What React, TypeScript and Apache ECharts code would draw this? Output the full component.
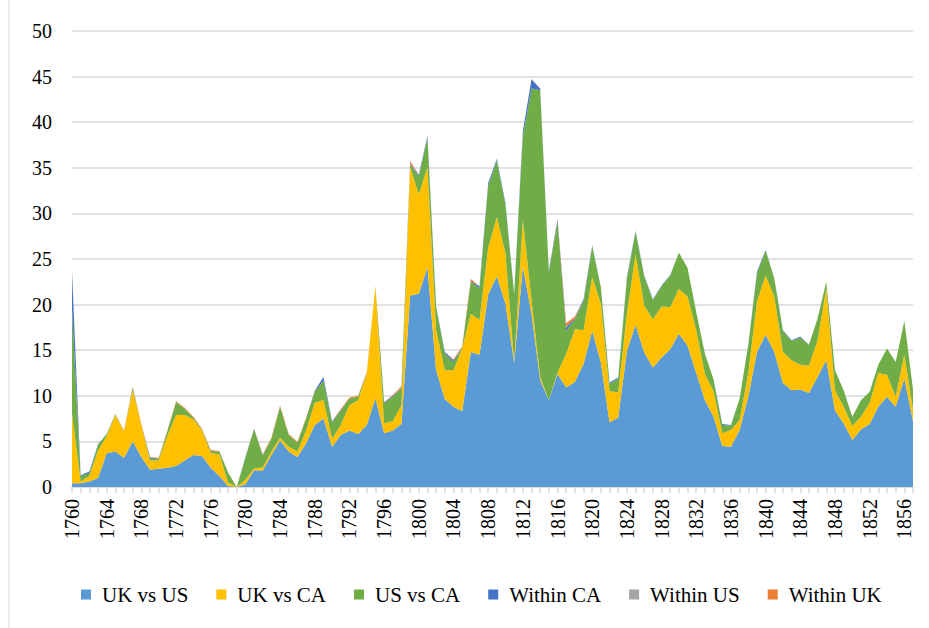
import React, { useEffect, useRef } from "react";
import * as echarts from "echarts";

const years = [
  "1760","1761","1762","1763","1764","1765","1766","1767","1768","1769",
  "1770","1771","1772","1773","1774","1775","1776","1777","1778","1779",
  "1780","1781","1782","1783","1784","1785","1786","1787","1788","1789",
  "1790","1791","1792","1793","1794","1795","1796","1797","1798","1799",
  "1800","1801","1802","1803","1804","1805","1806","1807","1808","1809",
  "1810","1811","1812","1813","1814","1815","1816","1817","1818","1819",
  "1820","1821","1822","1823","1824","1825","1826","1827","1828","1829",
  "1830","1831","1832","1833","1834","1835","1836","1837","1838","1839",
  "1840","1841","1842","1843","1844","1845","1846","1847","1848","1849",
  "1850","1851","1852","1853","1854","1855","1856","1857",
];

const ukVsUs = [
  0.4, 0.4, 0.6, 1.0, 3.7, 3.9, 3.2, 5.0, 3.3, 1.9,
  2.0, 2.1, 2.3, 2.9, 3.5, 3.4, 2.1, 1.2, 0.1, 0,
  0.3, 1.85, 1.8, 3.5, 5.1, 3.9, 3.3, 4.8, 6.8, 7.5,
  4.4, 5.7, 6.2, 5.8, 6.8, 9.7, 5.9, 6.2, 6.9, 21.0,
  21.2, 24.1, 12.8, 9.65, 8.8, 8.3, 14.8, 14.5, 21.1, 23.1,
  20.1, 13.6, 24.2, 19.0, 11.7, 9.5, 12.4, 10.9, 11.5, 13.5,
  17.1, 13.65, 7.1, 7.6, 14.9, 17.8, 14.75, 13.1, 14.2, 15.1,
  16.8, 15.5, 12.5, 9.5, 7.7, 4.5, 4.4, 6.25, 9.9, 14.8,
  16.7, 14.8, 11.4, 10.6, 10.7, 10.3, 12.1, 13.9, 8.4, 7.0,
  5.15, 6.3, 6.9, 8.8, 9.9, 8.8, 11.9, 7.25,
];

const ukVsCa = [
  7.7, 0.2, 0.6, 3.0, 1.9, 4.0, 2.9, 5.6, 3.5, 1.0,
  0.9, 3.5, 5.6, 5.0, 3.9, 2.8, 1.6, 2.4, 0.4, 0,
  0.5, 0.2, 0.35, 0.4, 0.3, 0.5, 0.6, 1.4, 2.45, 2.05,
  0.9, 1.1, 2.8, 3.7, 5.6, 12.4, 1.1, 1.0, 2.1, 14.1,
  10.9, 11.0, 4.4, 3.15, 4.0, 6.9, 4.2, 3.8, 5.1, 6.5,
  5.5, 0.1, 5.1, 1.5, 0.4, 0, 0.15, 3.7, 5.8, 3.7,
  5.9, 6.45, 3.4, 2.8, 4.1, 7.7, 5.15, 5.3, 5.6, 4.6,
  4.9, 5.4, 4.7, 2.9, 2.8, 1.4, 1.85, 1.1, 2.6, 5.5,
  6.5, 6.1, 3.4, 3.3, 2.7, 3.0, 4.0, 7.9, 2.2, 1.8,
  1.55, 1.4, 2.35, 3.7, 2.4, 1.1, 2.6, 1.25,
];

const usVsCa = [
  11.5, 0.6, 0.3, 0.6, 0.2, 0.1, 0, 0.3, 0, 0.2,
  0.2, 0.5, 1.4, 0.7, 0.2, 0.1, 0.25, 0.3, 1.1, 0,
  2.4, 4.3, 1.3, 1.4, 3.4, 1.3, 0.95, 1.3, 1.2, 2.1,
  1.8, 1.6, 0.7, 0.4, 0.1, 0, 2.2, 2.7, 1.8, 0.2,
  2.0, 3.1, 2.5, 1.8, 0.9, 0.1, 3.5, 3.5, 6.8, 6.2,
  5.3, 7.4, 9.2, 23.2, 31.4, 14.0, 16.6, 2.5, 1.1, 3.2,
  3.4, 1.8, 0.8, 1.5, 3.8, 2.5, 3.2, 2.1, 2.2, 3.5,
  4.0, 3.1, 2.0, 2.2, 1.3, 0.9, 0.5, 2.35, 3.1, 3.1,
  2.7, 2.0, 2.3, 2.1, 3.0, 2.3, 2.4, 0.7, 2.2, 1.8,
  1.0, 1.8, 1.2, 0.9, 2.9, 3.8, 3.7, 2.2,
];

const withinCa = [
  4.0, 0.1, 0.2, 0.1, 0, 0, 0, 0, 0, 0.15,
  0, 0, 0, 0, 0, 0, 0, 0, 0, 0,
  0.1, 0.05, 0.05, 0, 0, 0, 0, 0, 0.1, 0.4,
  0.1, 0.05, 0, 0, 0, 0, 0.1, 0.1, 0.05, 0.1,
  0.15, 0.3, 0.1, 0.2, 0.2, 0, 0.1, 0.2, 0.3, 0.2,
  0.2, 0.1, 0.5, 1.0, 0.2, 0.2, 0.2, 0.4, 0.1, 0.2,
  0.1, 0, 0.15, 0.1, 0.2, 0.1, 0.1, 0.1, 0.1, 0.05,
  0, 0, 0, 0, 0, 0.1, 0.05, 0, 0, 0.2,
  0.1, 0, 0.1, 0.1, 0.1, 0, 0, 0, 0, 0,
  0, 0, 0, 0, 0, 0, 0, 0,
];

const withinUs = [
  0.1, 0, 0, 0, 0, 0, 0, 0, 0, 0,
  0, 0, 0, 0, 0, 0, 0, 0, 0, 0,
  0, 0, 0, 0, 0, 0, 0, 0, 0, 0,
  0, 0, 0, 0, 0, 0, 0, 0, 0, 0.05,
  0, 0, 0, 0, 0, 0, 0, 0, 0, 0,
  0, 0, 0, 0.05, 0, 0, 0, 0.05, 0, 0,
  0, 0, 0, 0, 0, 0, 0, 0, 0, 0,
  0, 0, 0, 0, 0, 0, 0, 0, 0, 0,
  0, 0, 0, 0, 0, 0, 0, 0, 0, 0,
  0, 0, 0, 0, 0, 0, 0, 0,
];

const withinUk = [
  0.1, 0, 0, 0, 0, 0, 0.1, 0.1, 0.1, 0.05,
  0.1, 0.1, 0.1, 0.1, 0.1, 0.1, 0.1, 0.05, 0, 0,
  0, 0, 0.1, 0.1, 0.15, 0.1, 0.1, 0.1, 0, 0,
  0, 0.1, 0.1, 0.1, 0.1, 0, 0, 0.1, 0.2, 0.3,
  0, 0, 0, 0, 0.1, 0.1, 0.2, 0, 0, 0,
  0, 0, 0, 0, 0, 0, 0.1, 0.4, 0.2, 0,
  0, 0, 0, 0, 0, 0, 0, 0, 0, 0,
  0, 0, 0, 0, 0, 0, 0, 0, 0, 0,
  0, 0, 0, 0, 0, 0, 0, 0, 0, 0,
  0, 0, 0, 0, 0, 0, 0, 0,
];

const seriesNames = ["UK vs US", "UK vs CA", "US vs CA", "Within CA", "Within US", "Within UK"];
const seriesData = [ukVsUs, ukVsCa, usVsCa, withinCa, withinUs, withinUk];
const seriesColors = ["#5B9BD5", "#FFC000", "#70AD47", "#4472C4", "#A5A5A5", "#ED7D31"];

const FONT = "Times New Roman, Liberation Serif, DejaVu Serif, serif";

export default function App() {
  const ref = useRef<HTMLDivElement>(null);

  useEffect(() => {
    if (!ref.current) return;
    const chart = echarts.init(ref.current, undefined, { renderer: "svg" });
    chart.setOption({
      animation: false,
      backgroundColor: "#ffffff",
      textStyle: { fontFamily: FONT },
      grid: { left: 72, right: 16, top: 31, bottom: 141, containLabel: false },
      legend: {
        bottom: 18,
        left: 76,
        icon: "rect",
        itemWidth: 10,
        itemHeight: 10,
        itemGap: 28,
        textStyle: { fontFamily: FONT, fontSize: 21, color: "#000000", padding: [0, 0, 0, 6] },
        data: seriesNames,
      },
      xAxis: {
        type: "category",
        boundaryGap: false,
        data: years,
        axisLine: { show: true, lineStyle: { color: "#d9d9d9", width: 1.5 } },
        axisTick: { show: true, interval: 0, length: 6, lineStyle: { color: "#d9d9d9", width: 1.5 } },
        axisLabel: {
          interval: 3,
          rotate: 90,
          margin: 12,
          fontFamily: FONT,
          fontSize: 20,
          color: "#000000",
        },
        splitLine: { show: false },
      },
      yAxis: {
        type: "value",
        min: 0,
        max: 50,
        interval: 5,
        axisLine: { show: false },
        axisTick: { show: false },
        axisLabel: { margin: 20, fontFamily: FONT, fontSize: 20, color: "#000000" },
        splitLine: { show: true, lineStyle: { color: "#d9d9d9", width: 1.5 } },
      },
      series: seriesNames.map((name, i) => ({
        name,
        type: "line",
        stack: "total",
        data: seriesData[i],
        symbol: "none",
        showSymbol: false,
        lineStyle: { width: 0 },
        itemStyle: { color: seriesColors[i] },
        areaStyle: { color: seriesColors[i], opacity: 1 },
        z: 2,
      })),
      graphic: [
        {
          type: "line",
          shape: { x1: 9, y1: 0, x2: 9, y2: 628 },
          style: { stroke: "#d9d9d9", lineWidth: 1 },
          silent: true,
        },
      ],
    });
    return () => chart.dispose();
  }, []);

  return (
    <div
      ref={ref}
      style={{ position: "absolute", left: 0, top: 0, width: 929, height: 628 }}
    />
  );
}
